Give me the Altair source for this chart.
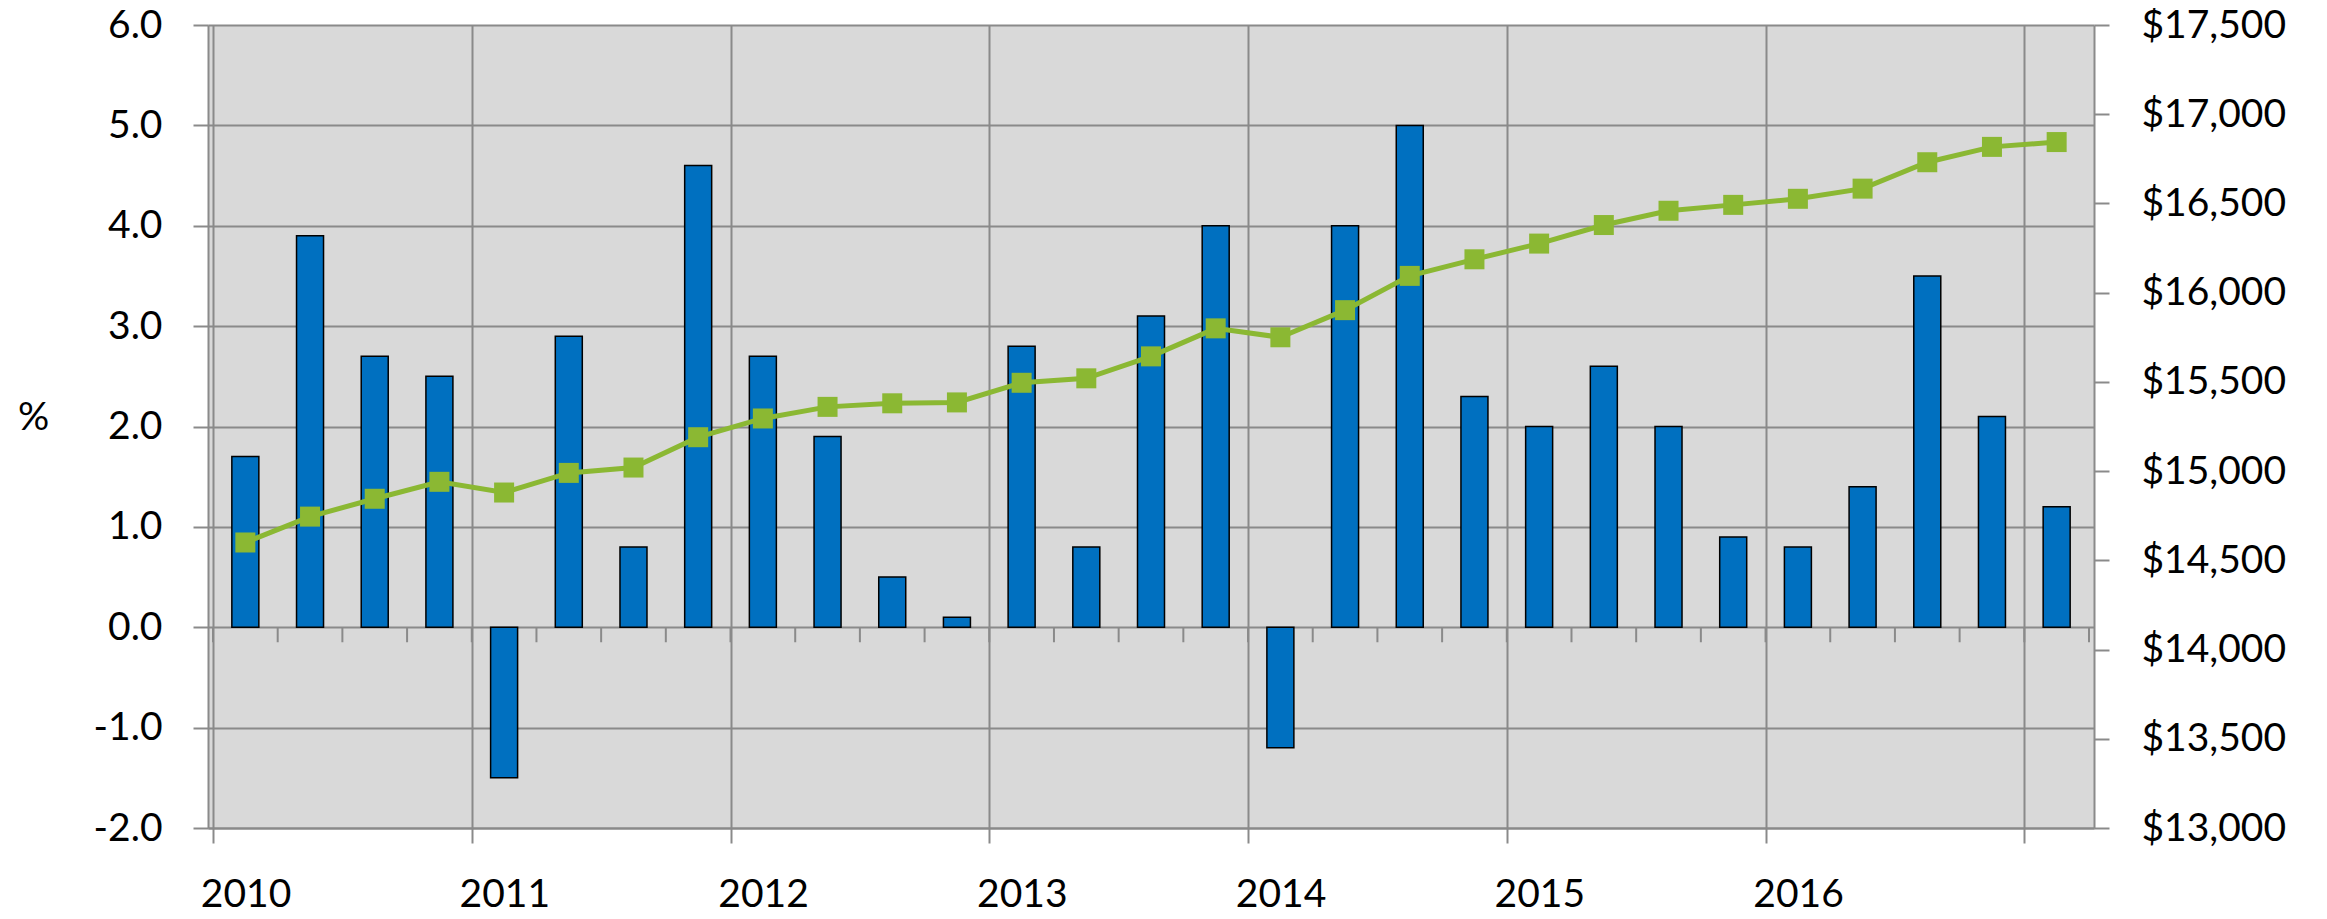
import altair as alt
import pandas as pd

years = ["2010", "2011", "2012", "2013", "2014", "2015", "2016"]
growth = [1.7, 3.9, 2.7, 2.5, -1.5, 2.9, 0.8, 4.6, 2.7, 1.9, 0.5, 0.1, 2.8, 0.8,
          3.1, 4.0, -1.2, 4.0, 5.0, 2.3, 2.0, 2.6, 2.0, 0.9, 0.8, 1.4, 3.5, 2.1, 1.2]
gdp = [14600, 14745, 14845, 14940, 14880, 14990, 15020, 15190, 15295, 15360,
       15380, 15385, 15495, 15520, 15643, 15800, 15750, 15902, 16094, 16187,
       16275, 16379, 16459, 16492, 16526, 16583, 16731, 16817, 16844]
left_ticks = [-2, -1, 0, 1, 2, 3, 4, 5, 6]
right_ticks = [13000, 13500, 14000, 14500, 15000, 15500, 16000, 16500, 17000, 17500]

n = len(growth)
df = pd.DataFrame({"q": list(range(n)), "growth": growth, "gdp": gdp})
bounds = pd.DataFrame({"b": [i - 0.5 for i in range(n + 1)], "zero": [0] * (n + 1)})
year_bounds = [i - 0.5 for i in range(0, n, 4)]

FONT = "Lato"
FS = 39
GRID = "#8a8a8a"
GREEN = "#8BB833"
BLUE = "#0070C0"

yr_arr = "[" + ",".join("'%s'" % y for y in years) + "]"
x_scale = alt.Scale(domain=[-0.5, n - 0.5], nice=False, zero=False)
x_axis = alt.Axis(
    values=year_bounds, grid=True, ticks=True, tickSize=15, title=None,
    labelExpr="round((datum.value + 0.5) / 4) < %d ? %s[round((datum.value + 0.5) / 4)] : ''" % (len(years), yr_arr),
    labelOffset=32.5, labelBaseline="middle", labelAlign="center", labelPadding=51,
    labelFlush=False, labelOverlap=False, labelBound=False,
)
x_enc_q = alt.X("q:Q", scale=x_scale, axis=x_axis)

left_scale = alt.Scale(domain=[-2, 6], nice=False, zero=False)
left_axis = alt.Axis(
    values=left_ticks, grid=True, tickSize=15, labelPadding=31,
    labelExpr="(datum.value < 0 ? '-' : '') + format(abs(datum.value), '.1f')",
    title="%", titleAngle=0, titleX=-175, titleY=392, titleAlign="center",
    titleBaseline="middle", titleFont=FONT, titleFontSize=FS, titleFontWeight="normal",
)
right_scale = alt.Scale(domain=[13000, 17500], nice=False, zero=False)
right_axis = alt.Axis(
    values=right_ticks, format="$,.0f", grid=False, tickSize=15, labelPadding=32,
    title=None, orient="right",
)

base = alt.Chart(df)

zero_ticks = alt.Chart(bounds).mark_rule(color=GRID, strokeWidth=2, y2Offset=15).encode(
    x=alt.X("b:Q", scale=x_scale, axis=x_axis),
    y=alt.Y("zero:Q", scale=left_scale, axis=left_axis),
    y2="zero:Q",
)
bars = base.mark_bar(size=27, color=BLUE, stroke="black", strokeWidth=1.5).encode(
    x=x_enc_q,
    y=alt.Y("growth:Q", scale=left_scale, axis=left_axis),
)
line = base.mark_line(color=GREEN, strokeWidth=5).encode(
    x=x_enc_q,
    y=alt.Y("gdp:Q", scale=right_scale, axis=right_axis),
)
pts = base.mark_point(shape="square", size=400, filled=True, color=GREEN, opacity=1).encode(
    x=x_enc_q,
    y=alt.Y("gdp:Q", scale=right_scale, axis=right_axis),
)

left = alt.layer(zero_ticks, bars)
right = alt.layer(line, pts)

chart = alt.layer(left, right).resolve_scale(y="independent").properties(
    width=1886, height=803,
    autosize=alt.AutoSizeParams(type="none"),
    padding={"left": 200, "top": 17, "right": 220, "bottom": 91},
    background="white",
).configure_view(fill="#d9d9d9", stroke=None).configure_axis(
    labelFont=FONT, labelFontSize=FS, labelColor="black",
    gridColor=GRID, gridWidth=2, domainColor=GRID, domainWidth=2,
    tickColor=GRID, tickWidth=2,
)

chart.save("out.html", embed_options={"renderer": "svg", "actions": False})
